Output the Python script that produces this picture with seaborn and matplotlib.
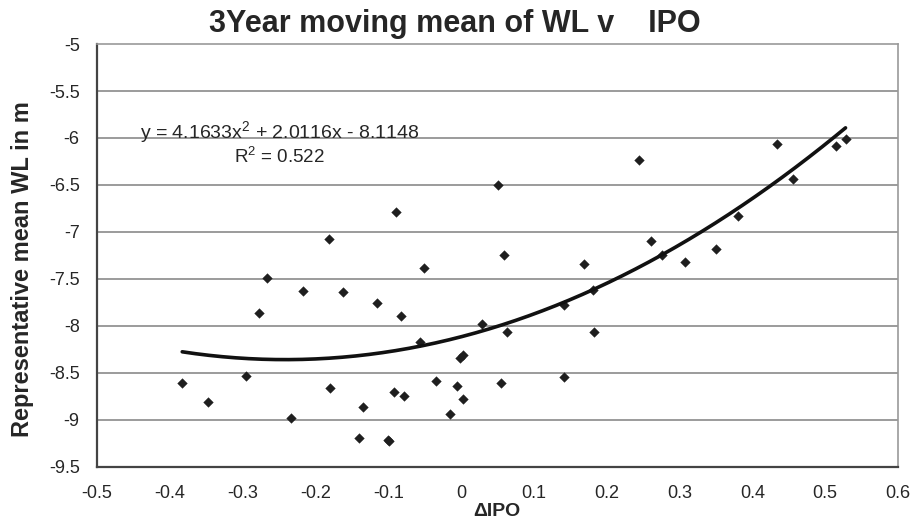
import numpy as np
import pandas as pd
import matplotlib
matplotlib.use("Agg")
import matplotlib.pyplot as plt
import seaborn as sns

# delta IPO (x) and 3 year moving mean water level (y)
d_ipo = [-0.383, -0.347, -0.296, -0.277, -0.266, -0.233, -0.217, -0.182, -0.180,
         -0.162, -0.140, -0.135, -0.116, -0.101, -0.099, -0.092, -0.089, -0.082,
         -0.078, -0.057, -0.051, -0.034, -0.015, -0.005, -0.001, 0.002, 0.002,
         0.029, 0.051, 0.055, 0.059, 0.063, 0.141, 0.142, 0.169, 0.181, 0.183,
         0.245, 0.261, 0.276, 0.308, 0.350, 0.381, 0.434, 0.456, 0.515, 0.528]
wl_mean = [-8.61, -8.81, -8.53, -7.86, -7.49, -8.98, -7.63, -7.07, -8.66,
           -7.64, -9.19, -8.86, -7.76, -9.21, -9.22, -8.70, -6.79, -7.89,
           -8.75, -8.17, -7.38, -8.59, -8.94, -8.64, -8.34, -8.31, -8.78,
           -7.98, -6.50, -8.61, -7.25, -8.06, -7.78, -8.54, -7.34, -7.62, -8.06,
           -6.23, -7.10, -7.25, -7.32, -7.18, -6.83, -6.06, -6.44, -6.09, -6.01]

# polynomial trendline (from the chart's equation label)
poly_coef = [4.1633, 2.0116, -8.1148]
r_squared = 0.522

x_ticks = [-0.5, -0.4, -0.3, -0.2, -0.1, 0, 0.1, 0.2, 0.3, 0.4, 0.5, 0.6]
y_ticks = [-9.5, -9, -8.5, -8, -7.5, -7, -6.5, -6, -5.5, -5]

df = pd.DataFrame({"dipo": d_ipo, "wl": wl_mean})

sns.set_style("white")
plt.rcParams["font.family"] = ["Liberation Sans", "DejaVu Sans"]
plt.rcParams["mathtext.default"] = "regular"

fig = plt.figure(figsize=(9.12, 5.22), dpi=100)
ax = fig.add_axes([0.1064, 0.1054, 0.8782, 0.8103])

# horizontal gridlines
for yv in y_ticks[1:-1]:
    ax.axhline(yv, color="#808080", lw=1.1, zorder=0)

sns.scatterplot(data=df, x="dipo", y="wl", marker="D", s=24, color="#1e1e1e",
                edgecolor="#1e1e1e", linewidth=0.3, ax=ax, zorder=3)

xs = np.linspace(min(d_ipo), max(d_ipo), 200)
sns.lineplot(x=xs, y=np.polyval(poly_coef, xs), color="#111111", lw=2.6,
             ax=ax, zorder=4)

ax.set_xlim(-0.5, 0.6)
ax.set_ylim(-9.5, -5)
ax.set_xticks(x_ticks)
ax.set_xticklabels([f"{t:g}" for t in x_ticks])
ax.set_yticks(y_ticks)
ax.set_yticklabels([f"{t:g}" for t in y_ticks])
ax.tick_params(axis="x", direction="out", length=5, width=1.2, color="#444444",
               labelsize=13, pad=8)
ax.tick_params(axis="y", direction="inout", length=7, width=1.2, color="#444444",
               labelsize=13, pad=9)
ax.set_xlabel("")
ax.set_ylabel("")

for side in ["left", "bottom"]:
    ax.spines[side].set_color("#444444")
    ax.spines[side].set_linewidth(1.6)
for side in ["top", "right"]:
    ax.spines[side].set_color("#999999")
    ax.spines[side].set_linewidth(1.2)

fig.text(0.499, 1 - 32 / 522, "3Year moving mean of WL v    IPO", fontsize=22,
         fontweight="bold", ha="center", va="baseline")
fig.text(0.545, 1 - 512 / 522, "ΔIPO", fontsize=14, fontweight="bold",
         ha="center", va="center")
fig.text(23 / 912, 1 - 269 / 522, "Representative mean WL in m", fontsize=17,
         fontweight="bold", rotation=90, ha="center", va="center")

ax.text(-0.441, -6.0, "y = 4.1633x$^2$ + 2.0116x - 8.1148", fontsize=14,
        ha="left", va="baseline")
ax.text(-0.249, -6.27, f"R$^2$ = {r_squared}", fontsize=13.5, ha="center",
        va="baseline")

fig.savefig("out.png", dpi=100)
